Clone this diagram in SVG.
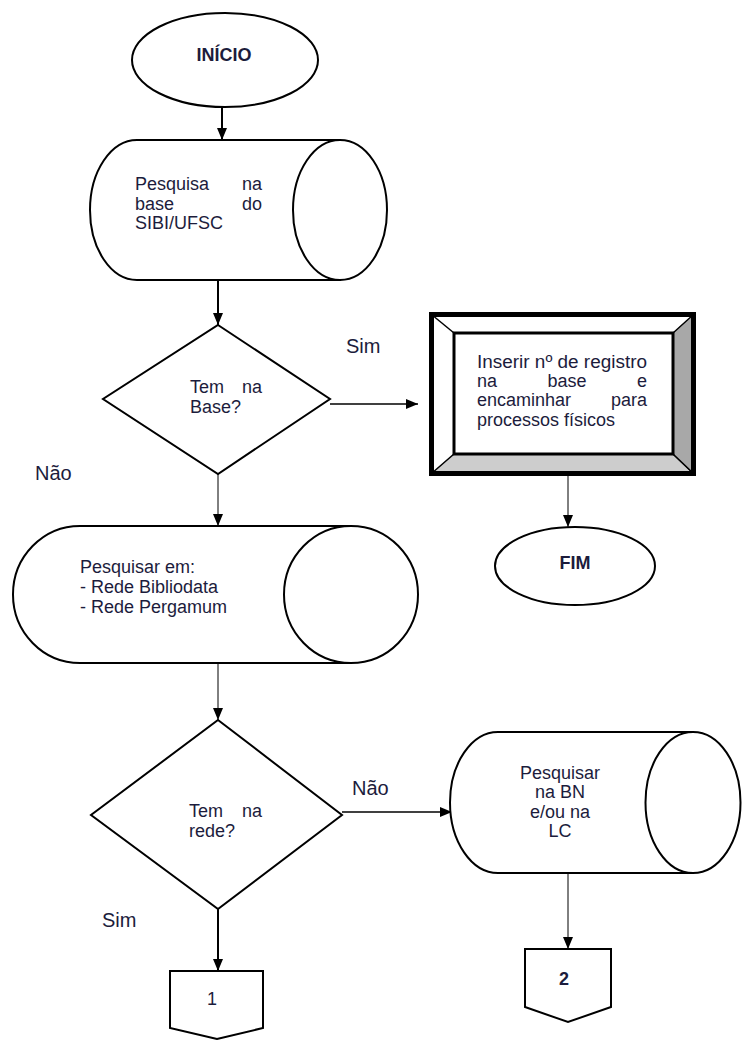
<svg xmlns="http://www.w3.org/2000/svg" width="742" height="1040" viewBox="0 0 742 1040">
<style>
.s{fill:#fff;stroke:#000;stroke-width:2}
.t{font-family:"Liberation Sans",Arial,sans-serif;font-size:18px;fill:#1c1c3c}
.b{font-weight:bold}
.m{text-anchor:middle}
.e{text-anchor:end}
.l{font-family:"Liberation Sans",Arial,sans-serif;font-size:20px;fill:#1c1c3c}
.c{fill:none;stroke:#000;marker-end:url(#ah)}
</style>
<defs>
<marker id="ah" markerUnits="userSpaceOnUse" markerWidth="13" markerHeight="11" refX="12" refY="5" orient="auto">
<path d="M0,0 L12,5 L0,10 Z" fill="#000"/>
</marker>
</defs>
<rect width="742" height="1040" fill="#fff"/>
<g id="connectors">
<line class="c" x1="222" y1="107" x2="222" y2="140" stroke-width="2"/>
<line class="c" x1="218" y1="280" x2="218" y2="325" stroke-width="2"/>
<line class="c" x1="330" y1="404" x2="418" y2="404" stroke-width="1.5"/>
<line class="c" x1="568" y1="476" x2="568" y2="527" stroke-width="1"/>
<line class="c" x1="218" y1="474" x2="218" y2="526" stroke-width="1"/>
<line class="c" x1="218" y1="663" x2="218" y2="720" stroke-width="1"/>
<line class="c" x1="342" y1="812" x2="452" y2="812" stroke-width="1.5"/>
<line class="c" x1="218" y1="909" x2="218" y2="971" stroke-width="2"/>
<line class="c" x1="568" y1="873" x2="568" y2="949" stroke-width="1"/>
<text class="l" x="346" y="353">Sim</text>
<text class="l" x="35" y="480">Não</text>
<text class="l" x="352" y="795">Não</text>
<text class="l" x="102" y="927">Sim</text>
</g>
<g id="inicio">
<ellipse class="s" cx="225" cy="60" rx="93" ry="47"/>
<text class="t b m" x="224" y="61">INÍCIO</text>
</g>
<g id="pesquisa-sibi">
<path class="s" d="M137,140 L340,140 L340,280 L137,280 A47,70 0 0 1 137,140 Z"/>
<ellipse class="s" cx="340" cy="210" rx="47" ry="70"/>
<text class="t" x="135" y="190">Pesquisa</text>
<text class="t e" x="262" y="190">na</text>
<text class="t" x="135" y="210">base</text>
<text class="t e" x="262" y="210">do</text>
<text class="t" x="135" y="229">SIBI/UFSC</text>
</g>
<g id="tem-na-base">
<polygon class="s" points="218,325 330,399 218,474 103,399"/>
<text class="t" x="190" y="393" font-size="17">Tem</text>
<text class="t e" x="262" y="393" font-size="17">na</text>
<text class="t" x="190" y="413" font-size="17">Base?</text>
</g>
<g id="inserir">
<rect x="431.5" y="314.5" width="262" height="159" fill="#fff"/>
<polygon points="431.5,473.5 454,454 673,454 693.5,473.5" fill="#cdcdcd" stroke="#000" stroke-width="1.5"/>
<polygon points="693.5,314.5 673,333 673,454 693.5,473.5" fill="#a8a8a8" stroke="#000" stroke-width="1.5"/>
<line x1="431.5" y1="314.5" x2="454" y2="333" stroke="#000" stroke-width="1.5"/>
<rect x="454" y="333" width="219" height="121" fill="#fff" stroke="#000" stroke-width="3"/>
<rect x="431.5" y="314.5" width="262" height="159" fill="none" stroke="#000" stroke-width="5"/>
<text class="t" x="477" y="368" textLength="170" lengthAdjust="spacingAndGlyphs">Inserir nº de registro</text>
<text class="t" x="477" y="387">na</text>
<text class="t m" x="567" y="387">base</text>
<text class="t e" x="647" y="387">e</text>
<text class="t" x="477" y="406">encaminhar</text>
<text class="t e" x="647" y="406">para</text>
<text class="t" x="477" y="426">processos físicos</text>
</g>
<g id="fim">
<ellipse class="s" cx="575" cy="566" rx="80" ry="39"/>
<text class="t b m" x="575" y="569">FIM</text>
</g>
<g id="pesquisar-redes">
<path class="s" d="M80,526 L351,526 L351,663 L80,663 A67,68.5 0 0 1 80,526 Z"/>
<ellipse class="s" cx="351" cy="594.5" rx="67" ry="68.5"/>
<text class="t" x="80" y="573" font-size="21">Pesquisar em:</text>
<text class="t" x="80" y="593" font-size="21">- Rede Bibliodata</text>
<text class="t" x="80" y="613" font-size="21">- Rede Pergamum</text>
</g>
<g id="tem-na-rede">
<polygon class="s" points="218,720 342,815 218,909 91,815"/>
<text class="t" x="189" y="817" font-size="17">Tem</text>
<text class="t e" x="262" y="817" font-size="17">na</text>
<text class="t" x="189" y="837" font-size="17">rede?</text>
</g>
<g id="pesquisar-bn">
<path class="s" d="M498,732 L693,732 L693,873 L498,873 A48,70.5 0 0 1 498,732 Z"/>
<ellipse class="s" cx="693" cy="802.5" rx="47.5" ry="70.5"/>
<text class="t m" x="560" y="779">Pesquisar</text>
<text class="t m" x="560" y="798">na BN</text>
<text class="t m" x="560" y="818">e/ou na</text>
<text class="t m" x="560" y="837">LC</text>
</g>
<g id="conector-1">
<path class="s" d="M170,971 L263,971 L263,1028 L217,1039 L170,1028 Z"/>
<text class="t m" x="212" y="1005" font-size="16">1</text>
</g>
<g id="conector-2">
<path class="s" d="M525,949 L611,949 L611,1007 L568,1022 L525,1007 Z"/>
<text class="t b m" x="564" y="985" font-size="16">2</text>
</g>
</svg>
